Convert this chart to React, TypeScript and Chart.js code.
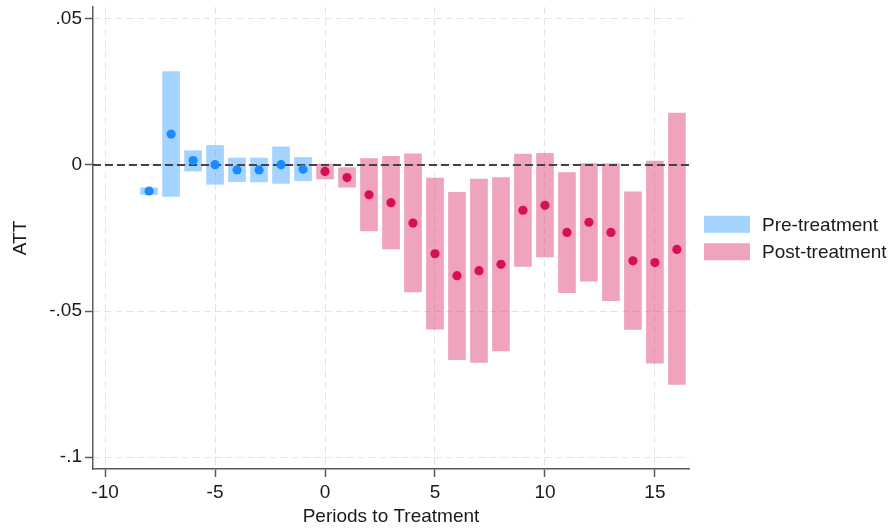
import { useEffect, useRef } from 'react';
import { Chart, registerables } from 'chart.js';

Chart.register(...registerables);

// Event-study estimates: average treatment effect on the treated by period
const prePeriods = [-8, -7, -6, -5, -4, -3, -2, -1];
const preAtt = [-0.0089, 0.0106, 0.0015, 0.0001, -0.0017, -0.0017, 0.0001, -0.0015];
const preLower = [-0.0101, -0.0108, -0.0021, -0.0066, -0.0057, -0.0058, -0.0063, -0.0054];
const preUpper = [-0.0078, 0.032, 0.0049, 0.0067, 0.0024, 0.0024, 0.0062, 0.0026];

const postPeriods = [0, 1, 2, 3, 4, 5, 6, 7, 8, 9, 10, 11, 12, 13, 14, 15, 16];
const postAtt = [
  -0.0022, -0.0043, -0.0102, -0.0129, -0.0199, -0.0304, -0.0379, -0.0362, -0.034,
  -0.0155, -0.0138, -0.0231, -0.0196, -0.0231, -0.0328, -0.0334, -0.0289,
];
const postLower = [
  -0.0048, -0.0076, -0.0226, -0.0287, -0.0435, -0.0562, -0.0667, -0.0676, -0.0637,
  -0.0347, -0.0315, -0.0437, -0.0398, -0.0465, -0.0563, -0.0679, -0.0751,
];
const postUpper = [
  0.0003, -0.0009, 0.0022, 0.003, 0.0038, -0.0045, -0.0094, -0.0048, -0.0043,
  0.0037, 0.004, -0.0026, 0.0005, 0.0004, -0.0092, 0.0013, 0.0178,
];

const xTicks = [-10, -5, 0, 5, 10, 15];
const yTicks = [-0.1, -0.05, 0, 0.05];
const yTickLabels = ['-.1', '-.05', '0', '.05'];

const legendLabels = ['Pre-treatment', 'Post-treatment'];

const FONT_FAMILY = "'Liberation Sans', Arial, Helvetica, sans-serif";
const TEXT = '#1a1a1a';
const AXIS = '#5a5a5a';
const GRID = '#e4e4e4';
const PRE_BAR = 'rgba(30, 144, 255, 0.4)';
const PRE_DOT = '#1a8cff';
const POST_BAR = 'rgba(220, 50, 110, 0.45)';
const POST_DOT = '#d8104f';

// Dashed reference line at zero, drawn above the intervals but under the dots
const zeroLine = {
  id: 'zeroLine',
  afterDatasetDraw(chart: any, args: any) {
    if (args.index !== 1) return;
    const { ctx, chartArea } = chart;
    const y = chart.scales.y.getPixelForValue(0);
    ctx.save();
    ctx.strokeStyle = '#444444';
    ctx.lineWidth = 2;
    ctx.setLineDash([8, 4]);
    ctx.beginPath();
    ctx.moveTo(chartArea.left, y);
    ctx.lineTo(chartArea.right, y);
    ctx.stroke();
    ctx.restore();
  },
};

// Legend to the right of the plot, centred vertically on it
const sideLegend = {
  id: 'sideLegend',
  afterDraw(chart: any) {
    const { ctx, chartArea } = chart;
    const colors = [PRE_BAR, POST_BAR];
    const cx = chartArea.right + 15;
    const cy = (chartArea.top + chartArea.bottom) / 2;
    const gap = 27.4;
    ctx.save();
    ctx.font = `19px ${FONT_FAMILY}`;
    ctx.textBaseline = 'middle';
    ctx.textAlign = 'left';
    legendLabels.forEach((label, i) => {
      const my = cy + (i - 0.5) * gap;
      ctx.fillStyle = colors[i];
      ctx.fillRect(cx, my - 8.5, 46, 17);
      ctx.fillStyle = TEXT;
      ctx.fillText(label, cx + 58, my + 1);
    });
    ctx.restore();
  },
};

export default function App() {
  const canvasRef = useRef<HTMLCanvasElement | null>(null);

  useEffect(() => {
    const canvas = canvasRef.current;
    if (!canvas) return;

    const font = { family: FONT_FAMILY, size: 19 };

    const chart = new Chart(canvas, {
      type: 'bar',
      data: {
        datasets: [
          {
            type: 'bar',
            label: legendLabels[0],
            data: prePeriods.map((p, i) => ({ x: p, y: [preLower[i], preUpper[i]] })) as any,
            backgroundColor: PRE_BAR,
            borderWidth: 0,
            barThickness: 17,
            grouped: false,
            order: 4,
          },
          {
            type: 'bar',
            label: legendLabels[1],
            data: postPeriods.map((p, i) => ({ x: p, y: [postLower[i], postUpper[i]] })) as any,
            backgroundColor: POST_BAR,
            borderWidth: 0,
            barThickness: 17,
            grouped: false,
            order: 3,
          },
          {
            type: 'scatter',
            label: legendLabels[0],
            data: prePeriods.map((p, i) => ({ x: p, y: preAtt[i] })),
            backgroundColor: PRE_DOT,
            borderWidth: 0,
            pointRadius: 4.6,
            order: 2,
          },
          {
            type: 'scatter',
            label: legendLabels[1],
            data: postPeriods.map((p, i) => ({ x: p, y: postAtt[i] })),
            backgroundColor: POST_DOT,
            borderWidth: 0,
            pointRadius: 4.6,
            order: 1,
          },
        ] as any,
      },
      options: {
        responsive: false,
        animation: false,
        events: [],
        layout: { padding: { top: 7, right: 205, bottom: 0, left: 0 } },
        plugins: {
          legend: { display: false },
          tooltip: { enabled: false },
        },
        scales: {
          x: {
            type: 'linear',
            min: -10.55,
            max: 16.55,
            offset: false,
            afterBuildTicks: (s: any) => {
              s.ticks = xTicks.map((v) => ({ value: v }));
            },
            afterFit: (s: any) => {
              s.height = 59;
              s.paddingLeft = 0;
              s.paddingRight = 0;
            },
            ticks: {
              color: TEXT,
              font,
              padding: 4,
              autoSkip: false,
              maxRotation: 0,
              callback: (v: any) => String(v),
            },
            grid: {
              offset: false,
              color: GRID,
              lineWidth: 1,
              tickLength: 8,
              tickColor: AXIS,
              tickWidth: 1.5,
              tickBorderDash: [],
            },
            border: { display: true, color: AXIS, width: 1.5, dash: [7, 4] },
            title: {
              display: true,
              text: 'Periods to Treatment',
              color: TEXT,
              font,
              padding: { top: 0, bottom: 0 },
            },
          },
          y: {
            type: 'linear',
            min: -0.1041,
            max: 0.0541,
            afterBuildTicks: (s: any) => {
              s.ticks = yTicks.map((v) => ({ value: v }));
            },
            afterFit: (s: any) => {
              s.width = 93;
              s.paddingTop = 0;
              s.paddingBottom = 0;
            },
            ticks: {
              color: TEXT,
              font,
              padding: 3,
              callback: (v: any) => {
                const i = yTicks.findIndex((t) => Math.abs(t - Number(v)) < 1e-9);
                return i >= 0 ? yTickLabels[i] : '';
              },
            },
            grid: {
              color: GRID,
              lineWidth: 1,
              tickLength: 8,
              tickColor: AXIS,
              tickWidth: 1.5,
              tickBorderDash: [],
            },
            border: { display: true, color: AXIS, width: 1.5, dash: [7, 4] },
            title: {
              display: true,
              text: 'ATT',
              color: TEXT,
              font,
              padding: { top: 9, bottom: 0 },
            },
          },
        },
      } as any,
      plugins: [zeroLine, sideLegend],
    });

    return () => chart.destroy();
  }, []);

  return (
    <div style={{ position: 'fixed', left: 0, top: 0, width: 894, height: 528, background: '#ffffff' }}>
      <canvas ref={canvasRef} width={894} height={528} style={{ display: 'block' }} />
    </div>
  );
}
